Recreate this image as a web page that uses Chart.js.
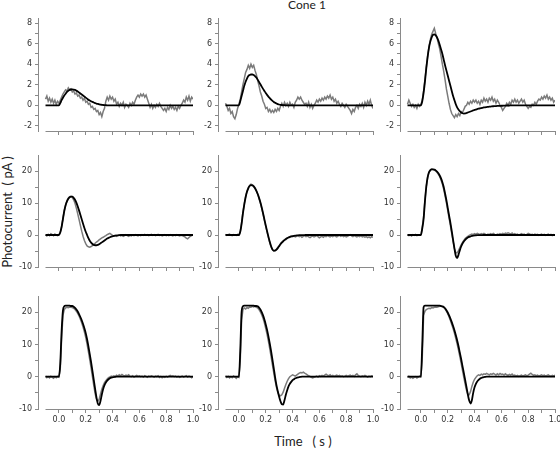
<!DOCTYPE html>
<html lang="en">
<head>
    <meta charset="UTF-8">
    <title>Cone 1</title>
    <script src="https://cdn.jsdelivr.net/npm/chart.js"></script>
    <style>
        html, body { margin: 0; padding: 0; background: #fff; overflow: hidden; }
        #stage { position: relative; width: 560px; height: 449px; }
        .label { position: absolute; font-family: 'Lato', 'Open Sans', sans-serif; color: #222; white-space: pre; }
        #title { left: 307px; top: -1px; font-size: 12px; line-height: 12px; transform: translateX(-50%); }
        #xtitle { left: 303px; top: 434px; font-size: 13px; line-height: 14px; transform: translateX(-50%); }
        #ytitle { left: 7px; top: 212px; font-size: 13px; line-height: 14px; transform: translate(-50%, -50%) rotate(-90deg); }
    </style>
</head>
<body>
<div id="stage">
    <div class="label" id="title">Cone 1</div>
    <div class="label" id="xtitle">Time   ( s )</div>
    <div class="label" id="ytitle">Photocurrent  ( pA )</div>
</div>
<script>
// time base (s), shared by every trace
const time = [
    -0.10,-0.09,-0.08,-0.07,-0.06,-0.05,-0.04,-0.03,-0.02,-0.01,0.00,
    0.01,0.02,0.03,0.04,0.05,0.06,0.07,0.08,0.09,0.10,
    0.11,0.12,0.13,0.14,0.15,0.16,0.17,0.18,0.19,0.20,
    0.21,0.22,0.23,0.24,0.25,0.26,0.27,0.28,0.29,0.30,
    0.31,0.32,0.33,0.34,0.35,0.36,0.37,0.38,0.39,0.40,
    0.41,0.42,0.43,0.44,0.45,0.46,0.47,0.48,0.49,0.50,
    0.51,0.52,0.53,0.54,0.55,0.56,0.57,0.58,0.59,0.60,
    0.61,0.62,0.63,0.64,0.65,0.66,0.67,0.68,0.69,0.70,
    0.71,0.72,0.73,0.74,0.75,0.76,0.77,0.78,0.79,0.80,
    0.81,0.82,0.83,0.84,0.85,0.86,0.87,0.88,0.89,0.90,
    0.91,0.92,0.93,0.94,0.95,0.96,0.97,0.98,0.99,1.00
];

// tick positions and labels
const timeTicks = [0.0,0.1,0.2,0.3,0.4,0.5,0.6,0.7,0.8,0.9,1.0];
const timeLabels = ['0.0','','0.2','','0.4','','0.6','','0.8','','1.0'];
const smallTicks = [-2,-1,0,1,2,3,4,5,6,7,8];
const smallLabels = ['-2','','0','','2','','4','','6','','8'];
const largeTicks = [-10,-5,0,5,10,15,20];
const largeLabels = ['-10','','0','','10','','20'];

// ---- row 1 (dim flashes) ----
const fit1 = [
    0,0,0,0,0,0,0,0,0,0,0,
    0.22,0.5,0.74,0.95,1.13,1.3,1.42,1.5,1.54,1.55,
    1.53,1.5,1.43,1.35,1.25,1.15,1.05,0.95,0.85,0.75,
    0.65,0.55,0.47,0.4,0.33,0.27,0.22,0.17,0.13,0.1,
    0.07,0.05,0.03,0.02,0.01,0,0,0,0,0,
    0,0,0,0,0,0,0,0,0,0,
    0,0,0,0,0,0,0,0,0,0,
    0,0,0,0,0,0,0,0,0,0,
    0,0,0,0,0,0,0,0,0,0,
    0,0,0,0,0,0,0,0,0,0,
    0,0,0,0,0,0,0,0,0,0
];
const trace1 = [
    0.6,0.9,0.4,0.7,0.3,0.6,0.2,0.5,0.1,0.4,0.2,
    0.5,0.8,1.1,1.3,1.5,1.4,1.7,1.5,1.6,1.3,
    1.4,1.1,1.2,0.9,1.0,0.7,0.8,0.5,0.7,0.3,
    0.4,0.1,0.2,-0.2,-0.1,-0.4,-0.3,-0.6,-0.5,-0.9,
    -0.7,-1.1,-0.6,-0.3,0.4,0.8,0.5,0.9,0.6,0.8,
    0.4,0.6,0.1,0.3,-0.1,0.2,0.0,0.3,-0.2,0.1,
    0.0,-0.2,0.2,0.0,0.3,0.1,0.5,0.8,1.0,0.8,
    1.1,0.9,1.1,0.8,1.0,0.6,0.2,-0.2,0.1,-0.3,
    0.0,-0.2,0.1,-0.1,0.2,-0.1,-0.3,-0.5,-0.3,-0.6,
    -0.2,-0.4,0.0,-0.3,-0.1,-0.4,-0.2,-0.5,-0.1,-0.3,
    0.0,0.2,0.5,0.3,0.8,0.5,0.9,0.4,0.8,0.6
];
const fit2 = [
    0,0,0,0,0,0,0,0,0,0,0,
    0.4,0.9,1.4,1.9,2.3,2.6,2.85,2.95,3.0,3.0,
    2.95,2.85,2.7,2.5,2.28,2.05,1.82,1.6,1.4,1.2,
    1.02,0.85,0.7,0.55,0.43,0.33,0.25,0.18,0.12,0.08,
    0.05,0.03,0.02,0.01,0,0,0,0,0,0,
    0,0,0,0,0,0,0,0,0,0,
    0,0,0,0,0,0,0,0,0,0,
    0,0,0,0,0,0,0,0,0,0,
    0,0,0,0,0,0,0,0,0,0,
    0,0,0,0,0,0,0,0,0,0,
    0,0,0,0,0,0,0,0,0,0
];
const trace2 = [
    0.2,-0.1,-0.5,-0.3,-0.8,-0.6,-1.1,-1.3,-0.9,-0.3,0.1,
    0.6,1.3,2.0,2.6,3.2,3.5,3.9,3.6,4.0,3.7,
    3.9,3.4,3.0,2.4,1.9,1.3,0.9,0.4,0.1,-0.3,
    -0.2,-0.6,-0.4,-0.7,-0.5,-0.7,-0.4,-0.6,-0.3,-0.5,
    -0.1,0.2,-0.1,0.3,0.0,0.2,-0.1,0.3,0.0,0.1,
    -0.2,0.3,0.5,0.8,0.6,0.8,0.5,0.3,0.1,0.2,
    -0.1,0.3,-0.2,0.1,-0.3,0.0,0.2,0.5,0.3,0.6,
    0.4,0.7,0.5,0.8,0.6,0.9,0.7,1.0,0.6,0.8,
    0.4,0.6,0.2,0.4,0.1,-0.1,0.2,0.0,-0.2,0.1,
    -0.1,-0.3,-0.5,-0.8,-0.4,-0.6,-0.2,0.0,-0.3,0.1,
    -0.1,0.2,-0.2,0.3,0.0,0.4,0.1,0.5,0.0,-0.3
];
const fit3 = [
    0,0,0,0,0,0,0,0,0,0,0,
    0.4,1.2,2.3,3.6,4.7,5.6,6.2,6.6,6.85,6.9,
    6.8,6.6,6.3,5.9,5.45,5.0,4.45,3.9,3.4,2.9,
    2.4,1.9,1.4,0.9,0.5,0.1,-0.2,-0.4,-0.58,-0.7,
    -0.77,-0.8,-0.79,-0.75,-0.7,-0.65,-0.6,-0.55,-0.5,-0.45,
    -0.41,-0.37,-0.33,-0.3,-0.27,-0.24,-0.21,-0.19,-0.17,-0.15,
    -0.13,-0.12,-0.1,-0.09,-0.08,-0.07,-0.06,-0.05,-0.05,-0.04,
    -0.04,-0.03,-0.03,-0.02,-0.02,-0.02,-0.01,-0.01,-0.01,-0.01,
    0,0,0,0,0,0,0,0,0,0,
    0,0,0,0,0,0,0,0,0,0,
    0,0,0,0,0,0,0,0,0,0
];
const trace3 = [
    0.1,0.5,0.2,-0.1,0.1,-0.2,0.0,-0.3,0.1,-0.1,0.1,
    0.5,1.4,2.5,3.7,4.8,5.7,6.4,6.9,7.2,7.5,
    7.0,6.6,6.0,5.5,4.8,4.0,3.3,2.5,1.6,0.9,
    0.2,-0.4,-0.8,-1.0,-1.2,-0.9,-1.1,-0.8,-1.0,-0.6,
    -0.7,-0.4,-0.1,0.0,0.3,0.1,0.4,0.2,0.5,0.3,
    0.5,0.2,0.4,0.1,0.5,0.3,0.7,0.4,0.6,0.3,
    0.7,0.5,0.8,0.4,0.6,0.2,0.5,0.3,0.0,-0.2,
    -0.5,-0.3,-0.1,0.2,0.0,0.3,0.1,0.5,0.3,0.6,
    0.3,0.5,0.2,0.4,0.6,0.3,0.5,0.1,-0.1,-0.3,
    -0.1,-0.2,0.1,0.0,0.3,0.1,0.4,0.6,0.5,0.8,
    0.6,0.9,0.7,1.0,0.6,0.8,0.5,0.7,0.3,0.5
];

// ---- row 2 (medium flashes) ----
const fit4 = [
    0,0,0,0,0,0,0,0,0,0,0,
    0.8,2.5,5.0,7.5,9.3,10.5,11.3,11.8,12.0,12.0,
    11.6,11.0,10.1,9.0,7.7,6.3,4.9,3.5,2.2,1.0,
    0.0,-1.0,-1.8,-2.4,-2.8,-3.1,-3.2,-3.2,-3.1,-2.9,
    -2.6,-2.3,-2.0,-1.7,-1.4,-1.1,-0.9,-0.7,-0.5,-0.4,
    -0.3,-0.2,-0.15,-0.1,-0.05,0,0,0,0,0,
    0,0,0,0,0,0,0,0,0,0,
    0,0,0,0,0,0,0,0,0,0,
    0,0,0,0,0,0,0,0,0,0,
    0,0,0,0,0,0,0,0,0,0,
    0,0,0,0,0,0,0,0,0,0
];
const trace4 = [
    0.0,-0.3,0.2,-0.2,0.4,0.1,-0.2,0.3,0.0,-0.2,0.1,
    0.8,2.6,5.2,7.6,9.4,10.6,11.5,12.0,12.1,11.7,
    11.0,9.9,8.4,6.7,4.9,3.0,1.2,-0.4,-1.7,-2.7,
    -3.4,-3.7,-3.8,-3.6,-3.3,-3.0,-2.6,-2.2,-1.9,-1.5,
    -1.2,-0.9,-0.7,-0.4,-0.2,0.1,0.3,0.5,0.2,-0.1,
    -0.3,-0.1,-0.4,-0.2,0.0,-0.3,-0.1,-0.4,-0.2,0.1,
    -0.2,-0.4,-0.1,-0.3,0.0,-0.2,0.1,-0.1,-0.3,0.0,
    -0.2,0.1,-0.1,0.2,-0.1,0.1,-0.2,0.0,0.2,-0.1,
    0.1,-0.2,0.0,0.2,-0.1,0.0,-0.3,-0.1,0.1,-0.2,
    0.0,-0.2,0.1,-0.1,-0.3,0.0,-0.2,0.1,-0.1,-0.3,
    -0.1,-0.2,-0.4,-0.6,-1.0,-1.2,-0.8,-0.4,-0.2,0.0
];
const fit5 = [
    0,0,0,0,0,0,0,0,0,0,0,
    1.0,3.5,6.8,9.5,11.8,13.5,14.6,15.3,15.6,15.5,
    15.2,14.6,13.8,12.8,11.6,10.2,8.6,6.8,4.9,3.0,
    1.2,-0.5,-2.1,-3.5,-4.5,-4.9,-4.9,-4.6,-4.1,-3.5,
    -2.9,-2.4,-2.0,-1.6,-1.3,-1.0,-0.8,-0.6,-0.45,-0.35,
    -0.27,-0.2,-0.15,-0.1,-0.07,-0.05,-0.03,-0.02,-0.01,0,
    0,0,0,0,0,0,0,0,0,0,
    0,0,0,0,0,0,0,0,0,0,
    0,0,0,0,0,0,0,0,0,0,
    0,0,0,0,0,0,0,0,0,0,
    0,0,0,0,0,0,0,0,0,0
];
const trace5 = [
    0.2,-0.1,0.1,0.3,0.0,-0.2,0.1,0.0,-0.1,0.2,0.0,
    1.2,3.8,7.0,9.8,12.0,13.6,14.8,15.5,15.9,15.7,
    15.3,14.7,13.9,12.8,11.5,10.0,8.4,6.6,4.6,2.7,
    0.9,-0.8,-2.4,-3.7,-4.6,-5.0,-4.8,-4.4,-3.9,-3.3,
    -2.7,-2.2,-1.8,-1.5,-1.1,-0.9,-0.7,-0.6,-0.4,-0.5,
    -0.3,-0.6,-0.4,-0.2,-0.5,-0.3,-0.7,-0.4,-0.2,-0.5,
    -0.3,-0.6,-0.8,-0.5,-0.3,-0.6,-0.4,-0.2,-0.5,-0.9,
    -0.6,-0.4,-0.7,-0.3,-0.5,-0.2,-0.4,-0.6,-0.3,-0.5,
    -0.2,-0.4,-0.6,-0.3,-0.1,-0.4,-0.2,-0.5,-0.3,-0.6,
    -0.4,-0.2,0.1,-0.3,-0.5,-0.2,-0.4,-0.6,-0.3,-0.5,
    -0.2,-0.6,-0.4,-0.7,-0.5,-0.8,-0.6,-0.9,-0.5,-0.7
];
const fit6 = [
    0,0,0,0,0,0,0,0,0,0,0,
    2.0,5.0,10.5,15.0,18.0,19.6,20.3,20.5,20.5,20.4,
    20.2,19.8,19.3,18.6,17.7,16.5,15.0,13.0,10.9,8.5,
    6.1,3.8,1.2,-1.5,-4.2,-6.5,-7.2,-6.2,-4.8,-3.6,
    -2.7,-2.0,-1.5,-1.1,-0.8,-0.6,-0.45,-0.3,-0.2,-0.15,
    -0.1,-0.07,-0.05,-0.03,-0.02,-0.01,0,0,0,0,
    0,0,0,0,0,0,0,0,0,0,
    0,0,0,0,0,0,0,0,0,0,
    0,0,0,0,0,0,0,0,0,0,
    0,0,0,0,0,0,0,0,0,0,
    0,0,0,0,0,0,0,0,0,0
];
const trace6 = [
    0.1,-0.2,0.0,-0.3,0.1,-0.1,0.2,-0.2,0.0,-0.1,0.1,
    2.4,5.6,10.8,15.2,17.9,19.5,20.2,20.6,20.5,20.3,
    20.0,19.6,19.0,18.2,17.2,15.9,14.3,12.3,10.1,7.7,
    5.3,2.9,0.4,-2.1,-4.3,-5.5,-5.6,-4.9,-4.0,-3.1,
    -2.3,-1.7,-1.1,-0.7,-0.4,-0.1,0.1,0.3,0.1,0.4,
    0.2,0.5,0.3,0.1,0.4,0.2,0.5,0.3,0.0,0.3,
    0.1,0.4,0.2,0.5,0.2,0.0,0.3,0.1,0.4,0.2,
    0.5,0.3,0.6,0.4,0.7,0.5,0.3,0.6,0.2,0.4,
    0.1,0.3,0.0,0.2,0.4,0.1,0.3,0.0,0.2,0.5,
    0.3,0.1,0.2,0.0,0.3,0.1,0.2,-0.1,0.1,0.3,
    0.0,0.2,-0.1,0.1,0.3,0.0,0.2,-0.2,0.1,0.0
];

// ---- row 3 (saturating flashes) ----
const fit7 = [
    0,0,0,0,0,0,0,0,0,0,0,
    4.0,14.0,20.5,21.8,22.0,22.0,22.0,22.0,21.9,21.9,
    21.7,21.3,20.8,20.2,19.4,18.5,17.5,16.3,15.0,13.5,
    11.6,9.4,7.0,4.5,1.8,-1.0,-3.8,-6.4,-8.3,-8.8,
    -7.5,-5.5,-3.8,-2.6,-1.8,-1.2,-0.8,-0.5,-0.3,-0.2,
    -0.1,-0.05,0,0,0,0,0,0,0,0,
    0,0,0,0,0,0,0,0,0,0,
    0,0,0,0,0,0,0,0,0,0,
    0,0,0,0,0,0,0,0,0,0,
    0,0,0,0,0,0,0,0,0,0,
    0,0,0,0,0,0,0,0,0,0
];
const trace7 = [
    0.2,-0.3,0.0,-0.4,0.1,-0.2,-0.5,0.0,-0.3,0.1,-0.1,
    2.5,11.5,19.0,20.8,21.3,21.5,21.4,21.6,21.5,21.4,
    21.2,20.8,20.3,19.6,18.8,17.8,16.7,15.4,13.9,12.2,
    10.1,7.8,5.3,2.7,0.0,-2.7,-5.2,-7.0,-7.6,-7.0,
    -5.4,-3.9,-2.7,-1.8,-1.2,-0.7,-0.3,-0.1,0.2,0.0,
    0.3,0.1,0.5,0.2,0.6,0.3,0.7,0.4,0.2,0.5,
    0.3,0.6,0.2,0.0,0.3,-0.1,0.2,0.4,0.1,0.3,
    0.0,0.2,-0.1,0.3,0.1,-0.2,0.2,0.0,0.3,0.1,
    -0.1,0.2,0.0,0.3,-0.2,0.1,-0.3,0.0,-0.2,0.1,
    -0.1,0.2,0.4,0.1,0.3,0.0,0.2,-0.1,0.1,-0.2,
    0.0,0.2,-0.1,0.1,0.3,-0.1,0.2,0.0,-0.3,0.1
];
const fit8 = [
    0,0,0,0,0,0,0,0,0,0,0,
    8.0,20.0,21.8,22.0,22.0,22.0,22.0,22.0,22.0,22.0,
    22.0,21.9,21.9,21.8,21.4,20.8,20.0,19.0,17.7,16.2,
    14.5,12.5,10.3,7.9,5.3,2.6,-0.2,-2.6,-4.5,-6.2,
    -7.6,-8.5,-8.6,-7.3,-5.6,-4.2,-3.0,-2.2,-1.6,-1.1,
    -0.8,-0.5,-0.35,-0.2,-0.1,-0.05,0,0,0,0,
    0,0,0,0,0,0,0,0,0,0,
    0,0,0,0,0,0,0,0,0,0,
    0,0,0,0,0,0,0,0,0,0,
    0,0,0,0,0,0,0,0,0,0,
    0,0,0,0,0,0,0,0,0,0
];
const trace8 = [
    0.3,-0.2,0.1,-0.4,0.0,-0.3,0.2,-0.1,-0.5,0.0,-0.2,
    5.0,17.5,20.8,21.3,21.0,21.4,21.2,21.6,21.5,21.8,
    21.6,21.8,21.5,21.3,20.8,20.1,19.2,18.1,16.7,15.0,
    13.1,11.0,8.7,6.2,3.7,1.2,-1.2,-3.3,-4.9,-5.7,
    -5.9,-5.6,-4.8,-3.6,-2.4,-1.4,-0.6,0.0,0.3,0.6,
    0.4,0.2,0.5,0.8,1.1,1.3,1.2,1.4,1.1,0.9,
    0.6,0.3,0.1,-0.2,-0.4,-0.2,0.0,0.2,-0.1,0.3,
    0.1,0.4,0.2,0.5,0.8,0.5,0.3,0.6,0.2,0.4,
    0.1,0.3,0.5,0.2,0.4,0.1,0.3,0.0,0.2,0.4,
    0.1,0.3,0.5,0.2,0.4,0.1,0.6,0.9,0.4,0.2,
    0.0,0.3,0.1,0.4,0.2,-0.1,0.2,0.0,0.3,0.1
];
const fit9 = [
    0,0,0,0,0,0,0,0,0,0,0,
    10.0,21.5,22.0,22.0,22.0,22.0,22.0,22.0,22.0,22.0,
    22.0,22.0,22.0,22.0,21.9,21.8,21.6,21.2,20.6,19.9,
    19.0,18.0,16.9,15.7,14.4,12.9,11.3,9.5,7.5,5.5,
    3.3,1.2,-1.0,-3.2,-5.5,-7.4,-8.3,-7.3,-5.0,-3.3,
    -2.2,-1.5,-1.0,-0.6,-0.4,-0.2,-0.1,-0.05,0,0,
    0,0,0,0,0,0,0,0,0,0,
    0,0,0,0,0,0,0,0,0,0,
    0,0,0,0,0,0,0,0,0,0,
    0,0,0,0,0,0,0,0,0,0,
    0,0,0,0,0,0,0,0,0,0
];
const trace9 = [
    -0.2,0.1,-0.4,-0.1,-0.5,-0.2,0.0,-0.4,-0.1,0.2,0.0,
    6.0,19.0,20.3,20.8,21.0,21.2,21.1,21.4,21.3,21.5,
    21.6,21.5,21.7,21.8,21.8,21.7,21.5,21.0,20.3,19.5,
    18.5,17.4,16.2,14.9,13.5,11.9,10.2,8.3,6.3,4.2,
    2.0,-0.2,-2.3,-4.2,-5.4,-5.6,-4.6,-3.0,-1.7,-0.8,
    -0.2,0.3,0.6,0.4,0.8,0.6,0.9,0.7,1.0,0.8,
    0.6,0.9,0.7,1.0,0.8,0.5,0.9,0.6,1.0,0.7,
    0.8,0.5,0.9,0.6,0.4,0.7,0.5,0.8,0.3,0.5,
    0.2,0.4,0.1,0.3,0.5,0.2,0.4,0.6,0.3,0.5,
    0.8,1.1,0.7,0.4,0.6,0.3,0.5,0.2,0.4,0.6,
    0.3,0.5,0.2,0.4,0.6,0.3,0.1,0.4,0.2,0.5
];

// layout of the 3x3 grid (pixel edges of each plot area)
const cols = [{ left: 38, right: 193 }, { left: 218, right: 373 }, { left: 400, right: 555 }];
const rows = [{ top: 18, bottom: 131 }, { top: 155, bottom: 267 }, { top: 296, bottom: 409 }];
const yRanges = [[-2.5, 8.5], [-10, 25], [-10, 25]];
const X_MIN = -0.156;   // y axis sits a little left of the x axis start
const X_START = -0.1;   // where the drawn x axis line begins
const YW = 34, XH = 22, PADT = 8, PADR = 10;
const AXIS = '#8a8a8a';
const TICK_FONT = { family: 'DejaVu Sans', size: 8 };

const panels = [
    { row: 0, col: 0, fit: fit1, trace: trace1 },
    { row: 0, col: 1, fit: fit2, trace: trace2 },
    { row: 0, col: 2, fit: fit3, trace: trace3 },
    { row: 1, col: 0, fit: fit4, trace: trace4 },
    { row: 1, col: 1, fit: fit5, trace: trace5 },
    { row: 1, col: 2, fit: fit6, trace: trace6 },
    { row: 2, col: 0, fit: fit7, trace: trace7 },
    { row: 2, col: 1, fit: fit8, trace: trace8 },
    { row: 2, col: 2, fit: fit9, trace: trace9 }
];

// x axis line drawn from -0.1 only, leaving a gap at the y axis
const xAxisLine = {
    id: 'xAxisLine',
    afterDraw(chart) {
        const ctx = chart.ctx, xs = chart.scales.x;
        const y = Math.round(chart.chartArea.bottom) + 0.5;
        ctx.save();
        ctx.strokeStyle = AXIS;
        ctx.lineWidth = 1;
        ctx.beginPath();
        ctx.moveTo(xs.getPixelForValue(X_START), y);
        ctx.lineTo(xs.getPixelForValue(1.0) + 0.5, y);
        ctx.stroke();
        ctx.restore();
    }
};

function points(values) {
    return time.map((t, i) => ({ x: t, y: values[i] }));
}

const stage = document.getElementById('stage');

panels.forEach(p => {
    const c = cols[p.col], r = rows[p.row];
    const w = c.right - c.left + YW + PADR;
    const h = r.bottom - r.top + PADT + XH;
    const canvas = document.createElement('canvas');
    canvas.width = w;
    canvas.height = h;
    canvas.style.cssText = 'position:absolute;left:' + (c.left - YW) + 'px;top:' + (r.top - PADT) + 'px;width:' + w + 'px;height:' + h + 'px';
    stage.appendChild(canvas);

    const yTicks = p.row === 0 ? smallTicks : largeTicks;
    const yLabels = p.row === 0 ? smallLabels : largeLabels;

    new Chart(canvas, {
        type: 'line',
        data: {
            datasets: [
                {
                    data: points(p.fit),
                    borderColor: '#000',
                    borderWidth: 1.8,
                    pointRadius: 0,
                    cubicInterpolationMode: 'monotone'
                },
                {
                    data: points(p.trace),
                    borderColor: '#7b7b7b',
                    borderWidth: 1.5,
                    pointRadius: 0,
                    tension: 0
                }
            ]
        },
        options: {
            responsive: false,
            animation: false,
            devicePixelRatio: 1,
            layout: { padding: { top: PADT, right: PADR, left: 0, bottom: 0 } },
            plugins: { legend: { display: false }, tooltip: { enabled: false } },
            scales: {
                x: {
                    type: 'linear',
                    min: X_MIN,
                    max: 1.0,
                    border: { display: false },
                    grid: { drawOnChartArea: false, tickLength: 4, color: AXIS },
                    afterBuildTicks: s => { s.ticks = timeTicks.map(v => ({ value: v })); },
                    ticks: {
                        autoSkip: false, maxRotation: 0, padding: 2, color: '#333', font: TICK_FONT,
                        callback: (v, i) => p.row === 2 ? timeLabels[i] : ''
                    },
                    afterFit: s => { s.height = XH; }
                },
                y: {
                    type: 'linear',
                    min: yRanges[p.row][0],
                    max: yRanges[p.row][1],
                    border: { display: true, color: AXIS, width: 1 },
                    grid: { drawOnChartArea: false, tickLength: 3, color: AXIS },
                    afterBuildTicks: s => { s.ticks = yTicks.map(v => ({ value: v })); },
                    ticks: {
                        autoSkip: false, padding: 3, color: '#333', font: TICK_FONT,
                        callback: (v, i) => yLabels[i]
                    },
                    afterFit: s => { s.width = YW; }
                }
            }
        },
        plugins: [xAxisLine]
    });
});
</script>
</body>
</html>
